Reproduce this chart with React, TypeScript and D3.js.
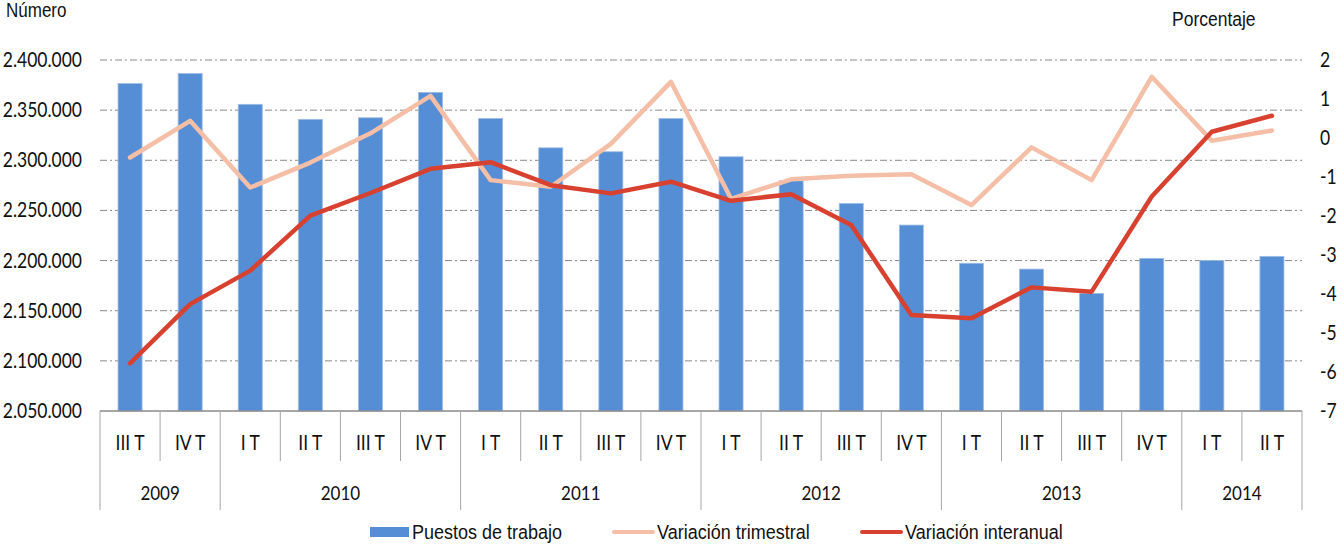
import React from "react";
import * as d3 from "d3";

// quarters shown on the x axis, grouped by year
const quarters = [
  "III T", "IV T",
  "I T", "II T", "III T", "IV T",
  "I T", "II T", "III T", "IV T",
  "I T", "II T", "III T", "IV T",
  "I T", "II T", "III T", "IV T",
  "I T", "II T",
];
const yearLabels = ["2009", "2010", "2011", "2012", "2013", "2014"];
const yearSpans = [2, 4, 4, 4, 4, 2];

// Puestos de trabajo (left axis)
const puestos = [
  2376500, 2386500,
  2355800, 2340800, 2342400, 2367700,
  2341700, 2312400, 2308500, 2341700,
  2303500, 2279500, 2257000, 2235400,
  2197300, 2191500, 2167300, 2202200,
  2200200, 2204200,
];
// Variación trimestral (%) (right axis)
const trimestral = [
  -0.5, 0.44,
  -1.27, -0.63, 0.12, 1.08,
  -1.08, -1.25, -0.15, 1.44,
  -1.56, -1.06, -0.97, -0.93,
  -1.72, -0.24, -1.08, 1.57,
  -0.07, 0.19,
];
// Variación interanual (%) (right axis)
const interanual = [
  -5.78, -4.26,
  -3.4, -1.99, -1.41, -0.79,
  -0.62, -1.21, -1.42, -1.12,
  -1.61, -1.44, -2.23, -4.54,
  -4.62, -3.83, -3.94, -1.5,
  0.16, 0.57,
];
const leftTicks = [2050000, 2100000, 2150000, 2200000, 2250000, 2300000, 2350000, 2400000];
const rightTicks = [-7, -6, -5, -4, -3, -2, -1, 0, 1, 2];

const W = 1344;
const H = 552;
const BAR = "#558ed5";
const TRIM = "#f4bea7";
const INTER = "#d8412f";
const calibri = "Lato, 'Open Sans', sans-serif";
const arial = "'Liberation Sans', Arial, sans-serif";
const SY = 1.16; // the picture is stretched a bit vertically

const esFormat = d3.formatLocale({
  decimal: ",",
  thousands: ".",
  grouping: [3],
  currency: ["", " €"],
}).format(",");

function T(props: {
  x: number; y: number; anchor?: string; size: number; family: string; children: React.ReactNode;
}) {
  return (
    <text
      transform={`translate(${props.x},${props.y}) scale(1,${SY})`}
      textAnchor={props.anchor || "start"}
      fontSize={props.size}
      fontFamily={props.family}
      fill="#111"
    >
      {props.children}
    </text>
  );
}

export default function App() {
  const left = 100, right = 1302, top = 60, bottom = 411;
  const x = d3.scaleBand<number>().domain(d3.range(quarters.length)).range([left, right]).padding(0);
  const bw = x.bandwidth();
  const cx = (i: number) => (x(i) as number) + bw / 2;
  const yL = d3.scaleLinear().domain([2050000, 2400000]).range([bottom, top]);
  const yR = d3.scaleLinear().domain([-7, 2]).range([bottom, top]);

  const line = d3.line<number>().x((d, i) => cx(i)).y((d) => yR(d));

  // year boundaries
  const bounds: number[] = [0];
  yearSpans.forEach((n) => bounds.push(bounds[bounds.length - 1] + n));
  const xb = (k: number) => (k >= quarters.length ? right : (x(k) as number));

  return (
    <svg width={W} height={H} style={{ position: "absolute", left: 0, top: 0 }}>
      <rect width={W} height={H} fill="#fff" />

      <T x={6} y={17} size={17} family={arial}>Número</T>
      <T x={1172} y={26} size={17.5} family={arial}>Porcentaje</T>

      {/* gridlines */}
      {leftTicks.slice(1).map((t) => (
        <line key={t} x1={left} x2={right} y1={yL(t)} y2={yL(t)} stroke="#8a8a8a" strokeWidth={1} strokeDasharray="7,3,2,3" />
      ))}

      {/* left axis labels */}
      {leftTicks.map((t) => (
        <T key={t} x={82} y={yL(t) + 7} anchor="end" size={17.5} family={calibri}>{esFormat(t)}</T>
      ))}
      {/* right axis labels */}
      {rightTicks.map((t) => (
        <T key={t} x={1320} y={yR(t) + 6.5} size={17.5} family={calibri}>{String(t)}</T>
      ))}

      {/* bars */}
      {puestos.map((v, i) => (
        <rect
          key={i}
          x={(x(i) as number) + bw * 0.3}
          y={yL(v)}
          width={bw * 0.4}
          height={bottom - yL(v)}
          fill={BAR}
          stroke="#9dbde6"
          strokeWidth={0.8}
        />
      ))}

      {/* lines */}
      <path d={line(trimestral) || ""} fill="none" stroke={TRIM} strokeWidth={4.5} strokeLinejoin="round" strokeLinecap="round" />
      <path d={line(interanual) || ""} fill="none" stroke={INTER} strokeWidth={4.5} strokeLinejoin="round" strokeLinecap="round" />

      {/* x axis */}
      <line x1={left} x2={right} y1={bottom} y2={bottom} stroke="#8a8a8a" strokeWidth={1.5} />
      {d3.range(quarters.length + 1).map((k) => {
        const isYear = bounds.includes(k);
        return (
          <line key={k} x1={xb(k)} x2={xb(k)} y1={bottom} y2={isYear ? 510 : 461} stroke="#a6a6a6" strokeWidth={1} />
        );
      })}
      {quarters.map((q, i) => (
        <T key={i} x={cx(i)} y={450} anchor="middle" size={17.5} family={calibri}>{q}</T>
      ))}
      {yearLabels.map((yv, j) => (
        <T key={yv} x={(xb(bounds[j]) + xb(bounds[j + 1])) / 2} y={500} anchor="middle" size={17} family={calibri}>{yv}</T>
      ))}

      {/* legend */}
      <rect x={370} y={527} width={39} height={10} fill={BAR} />
      <T x={412} y={539} size={18} family={arial}>Puestos de trabajo</T>
      <line x1={614} x2={653} y1={532} y2={532} stroke={TRIM} strokeWidth={4} strokeLinecap="round" />
      <T x={657} y={539} size={18} family={arial}>Variación trimestral</T>
      <line x1={862} x2={901} y1={532} y2={532} stroke={INTER} strokeWidth={4} strokeLinecap="round" />
      <T x={905} y={539} size={18} family={arial}>Variación interanual</T>
    </svg>
  );
}
